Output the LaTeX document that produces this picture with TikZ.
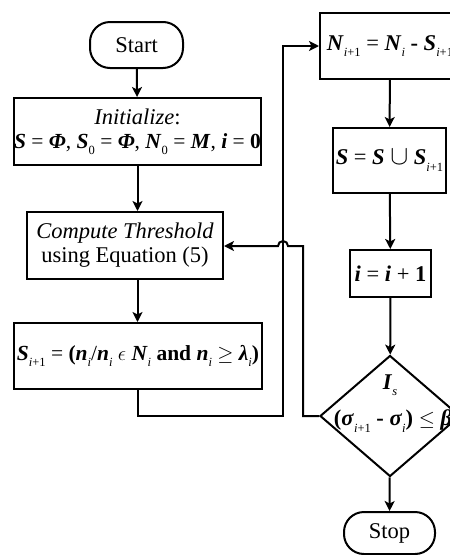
\documentclass[tikz,border=0pt]{standalone}
\usepackage{fontspec}
\setmainfont{Liberation Serif}
\usetikzlibrary{arrows.meta,shapes.geometric}
\newcommand\lsub[1]{\raisebox{-0.6ex}{\fontsize{12.5}{12.5}\selectfont\normalfont #1}}
\newcommand\bi[1]{\textbf{\textit{#1}}}
\newcommand\mathline{\fontsize{21.5}{26}\selectfont}
\begin{document}
\begin{tikzpicture}[x=1pt,y=-1pt,
  box/.style={draw,line width=2pt,inner sep=0pt,align=center,font=\fontsize{22.5}{26}\selectfont},
  term/.style={box,rounded corners=20pt},
  link/.style={line width=2pt},
  arr/.style={link,-{Stealth[length=10pt,width=10pt,inset=2.5pt]}}]
\useasboundingbox (0,0) rectangle (450,555);
\clip (0,0) rectangle (450,555);
% left column
\node[term,minimum width=93pt,minimum height=46pt] (start) at (136.5,45) {Start};
\node[box,minimum width=247pt,minimum height=67pt] (init) at (137.5,131.5)
  {\textit{Initialize}:\\[-2pt]{\mathline\bi{S} = \bi{Φ}, \bi{S}\lsub{0} = \bi{Φ}, \bi{N}\lsub{0} = \bi{M}, \bi{i} = \textbf{0}}};
\node[box,minimum width=196pt,minimum height=67pt] (thr) at (125,245.5)
  {\textit{Compute Threshold}\\[-2pt]using Equation (5)};
\node[box,minimum width=248pt,minimum height=66pt,font=\mathline] (sel) at (138,356)
  {\bi{S}\lsub{\textit{i}+1} = \textbf{(}\bi{n}\lsub{\textit{i}}/\bi{n}\lsub{\textit{i}} $\epsilon$ \bi{N}\lsub{\textit{i}} \textbf{and} \bi{n}\lsub{\textit{i}} $\geq$ \bi{λ}\lsub{\textit{i}}\textbf{)}};
% right column
\node[box,minimum width=140pt,minimum height=66pt] (upd) at (390,46)
  {\bi{N}\lsub{\textit{i}+1} = \bi{N}\lsub{\textit{i}} \textbf{-} \bi{S}\lsub{\textit{i}+1}};
\node[box,minimum width=113pt,minimum height=65pt] (uni) at (389.5,160.5)
  {\bi{S} = \bi{S} \scalebox{1.3}{$\cup$} \bi{S}\lsub{\textit{i}+1}};
\node[box,minimum width=81pt,minimum height=47pt] (inc) at (390.5,273.5)
  {\bi{i} = \bi{i} + \textbf{1}};
\node[draw,diamond,line width=2pt,inner sep=0pt,minimum width=140pt,minimum height=121pt] (dec) at (390,416) {};
\node[font=\fontsize{22.5}{26}\selectfont,inner sep=0pt] (decA) at (390,385) {\bi{I}\lsub{\textit{s}}};
\node[font=\fontsize{22.5}{26}\selectfont,inner sep=0pt] (decB) at (393,421)
  {\textbf{(}\bi{σ}\lsub{\textit{i}+1} \textbf{-} \bi{σ}\lsub{\textit{i}}\textbf{)} $\leq$ \bi{β}};
\node[term,minimum width=91pt,minimum height=42pt] (stop) at (389.5,533) {Stop};
% connectors
\coordinate (c1) at (138,416);
\coordinate (c2) at (283,416);
\coordinate (c3) at (303,416);
\coordinate (c4) at (303,246);
\draw[arr] (start) -- (init);
\draw[arr] (init.south) -- (init.south |- thr.north);
\draw[arr] (init.south |- thr.south) -- (init.south |- sel.north);
\draw[arr] (sel.south) -- (c1) -- (c2) -- (c2 |- upd.west) -- (upd.west);
\draw[arr] (dec.west) -- (c3) -- (c4) -- (288,246) arc (0:180:5pt) -- (thr.east |- c4);
\draw[arr] (upd) -- (uni);
\draw[arr] (uni) -- (inc);
\draw[arr] (inc) -- (dec);
\draw[arr] (dec) -- (stop);
\end{tikzpicture}
\end{document}
